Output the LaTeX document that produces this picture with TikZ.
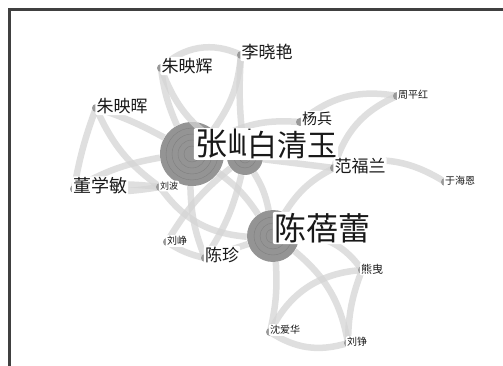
\documentclass[tikz,border=0pt]{standalone}
\usepackage{fontspec}
\newfontfamily\cjk{Noto Sans CJK SC}
\begin{document}
\begin{tikzpicture}[x=1pt,y=1pt,
  band/.style={line width=6.5pt, draw=black!17, opacity=0.72},
  hubc/.style={circle, fill=black!42, draw=none, inner sep=0pt},
  ring/.style={draw=black!50, line width=0.4pt},
  lab/.style={fill=white, rounded corners=2pt, inner sep=1.2pt, text=black!90},
  fs/.style={font=\cjk\fontsize{#1}{#1}\selectfont},
  crescent/.style={fill=black!40}]
\useasboundingbox (0,0) rectangle (503,-366);
\fill[white] (0,0) rectangle (503,-366);
\draw[line width=3pt, black!75] (9.5,-366) -- (9.5,-9.5) -- (503,-9.5);

% big hub circles
\node[hubc, minimum size=64pt] (zs) at (192,-154) {};
\node[hubc, minimum size=36pt] (bq) at (245,-157) {};
\node[hubc, minimum size=52pt] (cb) at (273,-236) {};
\foreach \r in {8,14,20,26}{\draw[ring] (zs) circle (\r pt);}
\foreach \r in {6,11}{\draw[ring] (bq) circle (\r pt);}
\foreach \r in {7,13,19}{\draw[ring] (cb) circle (\r pt);}

% small hubs
\coordinate (lxy) at (241,-55);
\coordinate (zyh1) at (161,-68);
\coordinate (zyh2) at (96,-108);
\coordinate (yb) at (300,-122);
\coordinate (zph) at (397,-96);
\coordinate (ffl) at (334,-168);
\coordinate (yhe) at (445,-182);
\coordinate (dxm) at (74,-189);
\coordinate (lb) at (160,-187);
\coordinate (lz) at (167,-242);
\coordinate (cz) at (205,-258);
\coordinate (xy) at (362,-270);
\coordinate (sah) at (270,-332);
\coordinate (lzh) at (348,-343);

% connectors
\draw[band] (zyh1) to[bend left=35] (lxy);
\draw[band] (zyh1) to[bend right=8] (zs);
\draw[band] (zyh1) to[bend right=20] (bq);
\draw[band] (lxy) to[bend left=15] (zs);
\draw[band] (lxy) to[bend right=5] (bq);
\draw[band] (zyh2) to[bend right=5] (dxm);
\draw[band] (zyh2) to[bend left=5] (zs);
\draw[band] (zyh2) to[bend right=15] (lb);
\draw[band] (dxm) to[bend left=8] (lb);
\draw[band] (dxm) to[bend right=8] (lb);
\draw[band] (dxm) to[bend left=10] (zs);
\draw[band] (lb) to[bend right=25] (cb);
\draw[band] (zs) to[bend right=10] (cz);
\draw[band] (bq) to[bend left=10] (cz);
\draw[band] (lz) to[bend left=10] (bq);
\draw[band] (lz) to[bend right=10] (cz);
\draw[band] (cz) -- (cb);
\draw[band] (zs) to[bend left=10] (cb);
\draw[band] (bq) to[bend left=10] (cb);
\draw[band] (zs) to[bend left=15] (yb);
\draw[band] (yb) to[bend left=25] (zph);
\draw[band] (zph) to[bend right=25] (ffl);
\draw[band] (bq) -- (ffl);
\draw[band] (ffl) to[bend left=25] (yhe);
\draw[band] (ffl) to[bend right=15] (cb);
\draw[band] (cb) to[bend left=25] (xy);
\draw[band] (cb) to[bend left=8] (sah);
\draw[band] (cb) to[bend left=20] (lzh);
\draw[band] (xy) to[bend right=30] (sah);
\draw[band] (xy) to[bend right=10] (lzh);
\draw[band] (sah) to[bend right=25] (lzh);
\foreach \h in {lxy,zyh1,zyh2,yb,zph,ffl,yhe,dxm,lb,lz,cz,xy,sah,lzh}{
  \fill[crescent] (\h) circle (4pt);}

% labels
\node[lab, fs=32] (tzs) at (227,-144) {张屾};
\node[lab, fs=30] (tbq) at (292,-145) {白清玉};
\node[lab, fs=32] (tcb) at (322,-228) {陈蓓蕾};
\node[lab, fs=17] (tlxy) at (267,-52) {李晓艳};
\node[lab, fs=17] (tzyh1) at (187,-66) {朱映辉};
\node[lab, fs=17] (tzyh2) at (122,-106) {朱映晖};
\node[lab, fs=15] (tyb) at (317,-119) {杨兵};
\node[lab, fs=10] (tzph) at (413,-95) {周平红};
\node[lab, fs=17] (tffl) at (360,-166) {范福兰};
\node[lab, fs=10] (tyhe) at (460,-181) {于海恩};
\node[lab, fs=18] (tdxm) at (100,-186) {董学敏};
\node[lab, fs=9] (tlb) at (169,-186) {刘波};
\node[lab, fs=10] (tlz) at (177,-241) {刘峥};
\node[lab, fs=17] (tcz) at (222,-255) {陈珍};
\node[lab, fs=11] (txy) at (372,-269) {熊曳};
\node[lab, fs=10] (tsah) at (285,-330) {沈爱华};
\node[lab, fs=10] (tlzh) at (357,-342) {刘铮};
\end{tikzpicture}
\end{document}
